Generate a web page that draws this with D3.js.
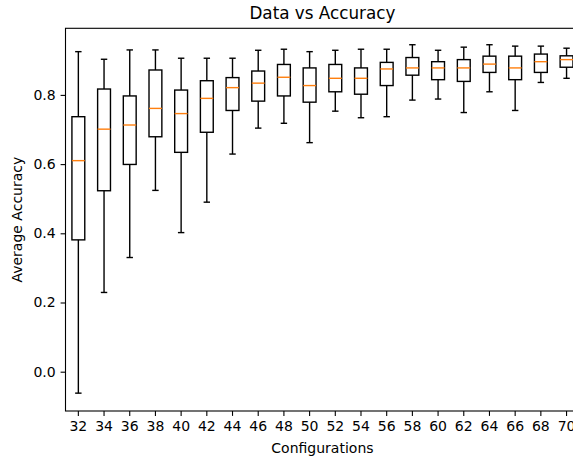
<!DOCTYPE html>
<html>
<head>
<meta charset="utf-8">
<script src="https://cdn.jsdelivr.net/npm/d3@7"></script>
<style>
  body { margin: 0; background: #fff; overflow: hidden; }
  svg { display: block; font-family: "DejaVu Sans", sans-serif; }
</style>
</head>
<body>
<div class="chartHolder"></div>
<script>
// values
let configs = ["32","34","36","38","40","42","44","46","48","50","52","54","56","58","60","62","64","66","68","70"];
let whiskLow = [-0.062, 0.229, 0.330, 0.524, 0.402, 0.490, 0.629, 0.704, 0.718, 0.662, 0.753, 0.734, 0.737, 0.785, 0.788, 0.749, 0.809, 0.755, 0.836, 0.848];
let q1 = [0.381, 0.523, 0.599, 0.679, 0.634, 0.692, 0.755, 0.782, 0.797, 0.779, 0.809, 0.802, 0.827, 0.857, 0.844, 0.839, 0.865, 0.844, 0.865, 0.880];
let medians = [0.610, 0.701, 0.713, 0.761, 0.746, 0.790, 0.821, 0.834, 0.851, 0.827, 0.848, 0.848, 0.875, 0.878, 0.878, 0.878, 0.889, 0.878, 0.896, 0.902];
let q3 = [0.737, 0.817, 0.797, 0.872, 0.814, 0.841, 0.850, 0.869, 0.888, 0.878, 0.888, 0.878, 0.894, 0.908, 0.896, 0.902, 0.912, 0.912, 0.918, 0.913];
let whiskHigh = [0.925, 0.903, 0.930, 0.930, 0.906, 0.906, 0.906, 0.929, 0.932, 0.925, 0.929, 0.932, 0.932, 0.945, 0.929, 0.938, 0.945, 0.941, 0.941, 0.935];
let yTicks = [0.0, 0.2, 0.4, 0.6, 0.8];

let w = 573,
  h = 460,
  padL = 65.5,
  padR = 579.4,   // right spine falls just outside the picture
  padT = 28.3,
  padB = 411;

let svg = d3.select(".chartHolder")
  .append("svg")
  .attr("width", w)
  .attr("height", h);

let xScale = d3.scaleBand()
  .domain(configs)
  .range([padL, padR])
  .paddingInner(0)
  .paddingOuter(0);

let yScale = d3.scaleLinear()
  .domain([-0.1136, 0.9925])
  .range([padB, padT]);

let bw = xScale.bandwidth();
let boxW = bw * 0.5,
  capW = bw * 0.25;

// axes
let xAxis = d3.axisBottom(xScale).tickSizeOuter(0).tickSize(4.9).tickPadding(4.9);
let xg = svg.append("g")
  .attr("transform", "translate(0," + padB + ")")
  .call(xAxis);

let yAxis = d3.axisLeft(yScale).tickValues(yTicks).tickFormat(d3.format(".1f")).tickSizeOuter(0).tickSize(4.9).tickPadding(4.9);
let yg = svg.append("g")
  .attr("transform", "translate(" + padL + ",0)")
  .call(yAxis);

[xg, yg].forEach(g => {
  g.select(".domain").remove();
  g.selectAll(".tick line").attr("stroke", "#000").attr("stroke-width", 1.1);
  g.selectAll(".tick text").attr("fill", "#000").style("font-size", "14px").style("font-family", "DejaVu Sans");
});

// frame
svg.append("rect")
  .attr("x", padL)
  .attr("y", padT)
  .attr("width", padR - padL)
  .attr("height", padB - padT)
  .attr("fill", "none")
  .attr("stroke", "#000")
  .attr("stroke-width", 1.1);

// boxes
let boxes = svg.selectAll("g.box")
  .data(configs)
  .enter()
  .append("g")
  .attr("class", "box")
  .attr("transform", d => "translate(" + (xScale(d) + bw / 2) + ",0)");

boxes.append("line")
  .attr("x1", 0).attr("x2", 0)
  .attr("y1", (d, i) => yScale(whiskLow[i]))
  .attr("y2", (d, i) => yScale(q1[i]));

boxes.append("line")
  .attr("x1", 0).attr("x2", 0)
  .attr("y1", (d, i) => yScale(q3[i]))
  .attr("y2", (d, i) => yScale(whiskHigh[i]));

boxes.append("line")
  .attr("x1", -capW / 2).attr("x2", capW / 2)
  .attr("y1", (d, i) => yScale(whiskLow[i]))
  .attr("y2", (d, i) => yScale(whiskLow[i]));

boxes.append("line")
  .attr("x1", -capW / 2).attr("x2", capW / 2)
  .attr("y1", (d, i) => yScale(whiskHigh[i]))
  .attr("y2", (d, i) => yScale(whiskHigh[i]));

boxes.append("rect")
  .attr("x", -boxW / 2)
  .attr("width", boxW)
  .attr("y", (d, i) => yScale(q3[i]))
  .attr("height", (d, i) => yScale(q1[i]) - yScale(q3[i]))
  .attr("fill", "none");

boxes.selectAll("line, rect")
  .attr("stroke", "#000")
  .attr("stroke-width", 1.4);

boxes.append("line")
  .attr("x1", -boxW / 2).attr("x2", boxW / 2)
  .attr("y1", (d, i) => yScale(medians[i]))
  .attr("y2", (d, i) => yScale(medians[i]))
  .attr("stroke", "#ff7f0e")
  .attr("stroke-width", 1.4);

// labels
svg.append("text")
  .attr("x", (padL + padR) / 2)
  .attr("y", 19.3)
  .attr("text-anchor", "middle")
  .style("font-size", "16.8px")
  .text("Data vs Accuracy");

svg.append("text")
  .attr("x", (padL + padR) / 2)
  .attr("y", 452.5)
  .attr("text-anchor", "middle")
  .style("font-size", "14px")
  .text("Configurations");

svg.append("text")
  .attr("transform", "rotate(-90)")
  .attr("x", -(padT + padB) / 2)
  .attr("y", 22)
  .attr("text-anchor", "middle")
  .style("font-size", "14px")
  .text("Average Accuracy");
</script>
</body>
</html>
